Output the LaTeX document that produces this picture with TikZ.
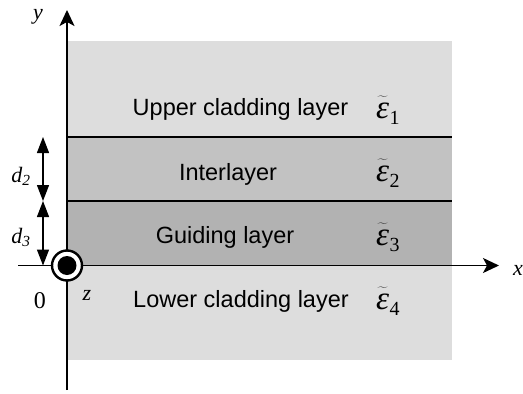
\documentclass[tikz,border=0pt]{standalone}
\usepackage{fontspec}
\setmainfont{Liberation Serif}
\newfontfamily\labelsans{Liberation Sans}
\usetikzlibrary{arrows.meta}
\definecolor{cladgray}{RGB}{221,221,221}
\definecolor{intergray}{RGB}{194,194,194}
\definecolor{guidegray}{RGB}{178,178,178}
\newcommand\epsil[1]{{\fontsize{33}{36}\selectfont$\widetilde{\hbox{\itshape ε\rule{0pt}{19pt}}}\hbox{\kern0.5pt\raise-6pt\hbox{\fontsize{20}{22}\selectfont #1}}$}}
\begin{document}
\begin{tikzpicture}[x=1pt,y=-1pt,
  layertext/.style={font=\labelsans\fontsize{23.5}{26}\selectfont, anchor=base, inner sep=0pt},
  epstext/.style={anchor=base west, inner sep=0pt},
  axislabel/.style={font=\fontsize{22}{24}\selectfont\itshape, anchor=base, inner sep=0pt},
  boundary/.style={line width=1.5pt},
  axisline/.style={line width=1.6pt, -{Stealth[length=16pt,width=15pt,inset=4pt]}},
  dimarrow/.style={line width=1.4pt, {Triangle[length=16pt,width=12pt]}-{Triangle[length=16pt,width=12pt]}}]
\useasboundingbox (0,0) rectangle (523,394);
% layers
\fill[cladgray] (67,41) rectangle (452,360);
\fill[intergray] (67,137) rectangle (452,201);
\fill[guidegray] (67,201) rectangle (452,265);
\draw[boundary] (67,137) -- (452,137);
\draw[boundary] (67,201) -- (452,201);
% coordinates
\coordinate (xleft) at (18,265.5);
\coordinate (xright) at (499,265.5);
\coordinate (ybot) at (67,390);
\coordinate (ytop) at (67,10);
\coordinate (d2top) at (43,137);
\coordinate (dmid) at (43,201);
\coordinate (d3bot) at (43,265.5);
% axes
\draw[axisline] (xleft) -- (xright);
\draw[axisline] (ybot) -- (ytop);
\node[axislabel] (xlab) at (518,275) {x};
\node[axislabel] (ylab) at (38,19) {y};
% z-direction symbol
\node[circle, draw, line width=2.4pt, fill=white, minimum size=30pt, inner sep=0pt] (zsym) at (67,265.5) {};
\node[circle, fill=black, minimum size=19pt, inner sep=0pt] (zdot) at (zsym.center) {};
\node[axislabel] (zlab) at (87,300) {z};
\node[font=\fontsize{24}{26}\selectfont, anchor=base, inner sep=0pt] (origin) at (40,308) {0};
% thickness arrows
\draw[dimarrow] (d2top) -- (dmid);
\draw[dimarrow] (dmid) -- (d3bot);
\node[font=\fontsize{22}{24}\selectfont\itshape, anchor=base, inner sep=0pt] (d2lab) at (21,182) {d\textsubscript{2}};
\node[font=\fontsize{22}{24}\selectfont\itshape, anchor=base, inner sep=0pt] (d3lab) at (21,243) {d\textsubscript{3}};
% layer texts
\node[layertext] (upper) at (240.5,115.7) {Upper cladding layer};
\node[layertext] (inter) at (228,180) {Interlayer};
\node[layertext] (guide) at (225,243.3) {Guiding layer};
\node[layertext] (lower) at (241,307.3) {Lower cladding layer};
\node[epstext] (e1) at (376,118) {\epsil{1}};
\node[epstext] (e2) at (376,181) {\epsil{2}};
\node[epstext] (e3) at (376,245) {\epsil{3}};
\node[epstext] (e4) at (376,309) {\epsil{4}};
\end{tikzpicture}
\end{document}
